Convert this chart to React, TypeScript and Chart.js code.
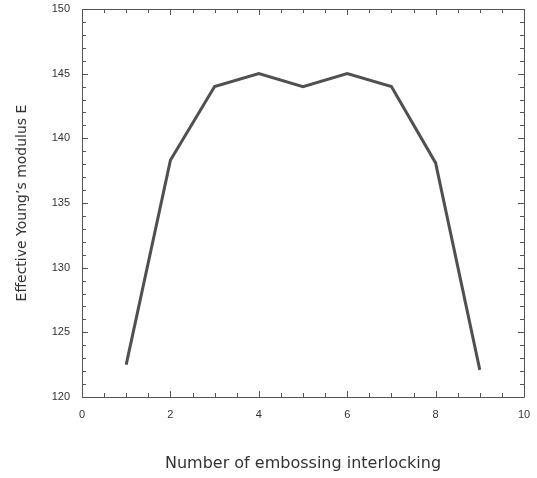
import React, { useEffect, useRef } from "react";
import { Chart, registerables } from "chart.js";

Chart.register(...registerables);

const xValues = [1, 2, 3, 4, 5, 6, 7, 8, 9];
const yValues = [122.5, 138.3, 144, 145, 144, 145, 144, 138.1, 122.1];
const xTitle = "Number of embossing interlocking";
const yTitle = "Effective Young\u2019s modulus E";
const xMin = 0, xMax = 10, xMajor = 2, xMinor = 0.5;
const yMin = 120, yMax = 150, yMajor = 5, yMinor = 1;

const framePlugin = {
  id: "frameTicks",
  afterDatasetsDraw(chart: any) {
    const { ctx, chartArea: a, scales } = chart;
    const xs = scales.x, ys = scales.y;
    ctx.save();
    ctx.strokeStyle = "#555";
    ctx.lineWidth = 1;
    ctx.beginPath();
    ctx.rect(Math.round(a.left) + 0.5, Math.round(a.top) + 0.5, Math.round(a.right - a.left), Math.round(a.bottom - a.top));
    ctx.stroke();
    ctx.beginPath();
    for (let v = xMin; v <= xMax + 1e-9; v += xMinor) {
      const px = Math.round(xs.getPixelForValue(v)) + 0.5;
      const isMajor = Math.abs(v / xMajor - Math.round(v / xMajor)) < 1e-6;
      const len = isMajor ? 6 : 4;
      ctx.moveTo(px, a.bottom);
      ctx.lineTo(px, a.bottom - len);
      ctx.moveTo(px, a.top);
      ctx.lineTo(px, a.top + len);
    }
    for (let v = yMin; v <= yMax + 1e-9; v += yMinor) {
      const py = Math.round(ys.getPixelForValue(v)) + 0.5;
      const isMajor = Math.abs(v / yMajor - Math.round(v / yMajor)) < 1e-6;
      const len = isMajor ? 6 : 4;
      ctx.moveTo(a.left, py);
      ctx.lineTo(a.left + len, py);
      ctx.moveTo(a.right, py);
      ctx.lineTo(a.right - len, py);
    }
    ctx.stroke();
    ctx.restore();
  },
};

export default function App() {
  const ref = useRef<HTMLCanvasElement | null>(null);
  useEffect(() => {
    if (!ref.current) return;
    const pts = xValues.map((x, i) => ({ x, y: yValues[i] }));
    const chart = new Chart(ref.current, {
      type: "line",
      data: {
        datasets: [
          { data: pts, borderColor: "#505050", borderWidth: 3, pointRadius: 0, tension: 0, fill: false },
          { data: pts, borderColor: "#a8a8a8", borderWidth: 1, pointRadius: 0, tension: 0, fill: false },
        ],
      },
      options: {
        animation: false,
        responsive: false,
        devicePixelRatio: 1,
        layout: { padding: { top: 9, right: 13, left: 0, bottom: 0 } },
        plugins: { legend: { display: false }, tooltip: { enabled: false } },
        scales: {
          x: {
            type: "linear",
            min: xMin,
            max: xMax,
            afterFit: (s: any) => { s.height = 81; s.paddingLeft = 0; s.paddingRight = 0; },
            ticks: { stepSize: xMajor, color: "#333", padding: 11, font: { family: "Liberation Sans", size: 11 } },
            grid: { display: false, drawTicks: false },
            border: { display: false },
            title: { display: true, text: xTitle, color: "#333", font: { family: "DejaVu Sans", size: 16 }, padding: { top: 0, bottom: 5 } },
          },
          y: {
            type: "linear",
            min: yMin,
            max: yMax,
            afterFit: (s: any) => { s.width = 82; s.paddingTop = 0; s.paddingBottom = 0; },
            ticks: { stepSize: yMajor, color: "#333", padding: 12, font: { family: "Liberation Sans", size: 11 } },
            grid: { display: false, drawTicks: false },
            border: { display: false },
            title: { display: true, text: yTitle, color: "#333", font: { family: "DejaVu Sans", size: 14 }, padding: { top: 13.6, bottom: 0 } },
          },
        },
      },
      plugins: [framePlugin],
    });
    return () => chart.destroy();
  }, []);
  return (
    <div style={{ position: "absolute", left: 0, top: 0, width: 537, height: 478, background: "#fff" }}>
      <canvas ref={ref} width={537} height={478} />
    </div>
  );
}
